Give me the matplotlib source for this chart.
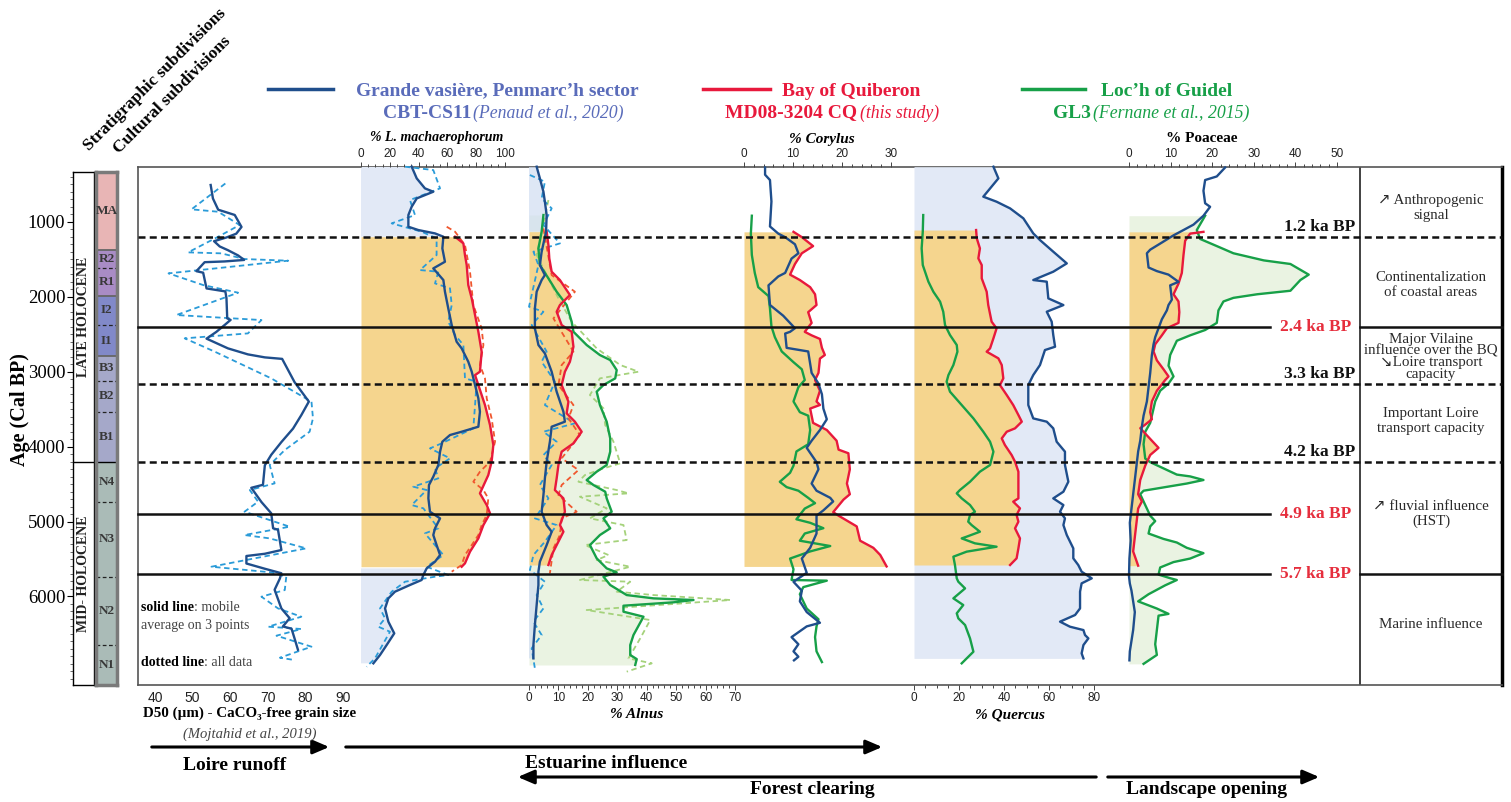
import matplotlib

matplotlib.use("Agg")
import matplotlib.pyplot as plt
import numpy as np
from matplotlib.lines import Line2D
from matplotlib.patches import FancyArrowPatch
from matplotlib.ticker import MultipleLocator

plt.rcParams["font.family"] = ["Liberation Serif", "DejaVu Sans"]
SANS = ["Liberation Sans Narrow", "Liberation Sans", "DejaVu Sans"]

W, H = 1511, 802
Y_TOP, Y_BOT = 167, 685
AGE_TOP, AGE_BOT = 270, 7181
STRIP_TOP = 337

# ---------------------------------------------------------------- data
AGE_TICKS = [1000, 2000, 3000, 4000, 5000, 6000]

SUBDIV_LABELS = ["MA", "R2", "R1", "I2", "I1", "B3", "B2", "B1", "N4", "N3", "N2", "N1"]
SUBDIV_EDGES = [337, 1378, 1618, 1991, 2378, 2792, 3125, 3539, 4200, 4739, 5739, 6647, 7181]

EVENT_AGES = [1200, 2400, 3165, 4200, 4900, 5700]
EVENT_LABELS = ["1.2 ka BP", "2.4 ka BP", "3.3 ka BP", "4.2 ka BP", "4.9 ka BP", "5.7 ka BP"]

# D50 grain size (Mojtahid et al., 2019)
grain_age = [510, 690, 840, 870, 910, 1070, 1160, 1210, 1260, 1330, 1380, 1450, 1510, 1530, 1540,
             1660, 1680, 1890, 1930, 2020, 2290, 2310, 2370, 2470, 2560, 2690, 2770, 2810, 2830, 3140,
             3400, 3580, 3760, 3940, 4110, 4250, 4510, 4550, 4740, 4890, 5090, 5110, 5380, 5430, 5460,
             5560, 5630, 5690, 5760, 5910, 5980, 6160, 6290, 6400, 6430, 6560, 6710]
grain_d50 = [54.8, 55.4, 56.8, 58.7, 61.2, 63.0, 61.6, 59.0, 55.7, 57.2, 59.4, 62.1, 63.7, 58.5, 53.2,
             51.0, 52.8, 53.7, 58.7, 59.0, 59.2, 60.1, 58.7, 56.3, 53.7, 59.4, 64.7, 69.2, 73.8, 77.1,
             80.9, 78.9, 76.7, 73.6, 70.9, 69.2, 68.7, 65.6, 68.3, 70.9, 71.4, 72.7, 73.6, 69.2, 64.3,
             64.3, 69.2, 73.6, 73.2, 71.8, 72.3, 73.6, 75.8, 74.0, 76.3, 77.1, 78.0]
grain_all_age = [490, 835, 867, 1044, 1200, 1409, 1422, 1498, 1520, 1689, 1845, 1947, 2245, 2312, 2490,
                 2556, 2734, 3090, 3401, 3624, 3802, 4046, 4246, 4491, 4580, 4735, 4869, 5069, 5180, 5225,
                 5358, 5603, 5678, 5736, 5914, 6003, 6159, 6270, 6403, 6434, 6523, 6670, 6817, 6848]
grain_all_d50 = [58.7, 49.7, 56.8, 62.5, 56.8, 48.8, 57.6, 63.8, 75.4, 43.6, 52.8, 62.1, 45.7, 68.3, 64.7,
                 47.9, 55.9, 70.9, 81.6, 82.0, 81.1, 74.5, 70.5, 71.8, 65.2, 67.4, 63.8, 75.8, 63.8, 70.5,
                 80.2, 55.0, 70.9, 74.9, 74.5, 68.3, 72.7, 78.9, 70.1, 78.9, 72.3, 81.6, 73.2, 77.1]

# % L. machaerophorum
lmach_cbt_age = [266, 422, 555, 600, 689, 800, 911, 1067, 1111, 1156, 1200, 1356, 1534, 1623, 1778,
                 1934, 2156, 2379, 2601, 2690, 2868, 3001, 3179, 3357, 3535, 3735, 3802, 3846, 3935, 4068,
                 4246, 4402, 4513, 4691, 4869, 4958, 5091, 5180, 5314, 5447, 5536, 5625, 5714, 5780, 5856,
                 5936, 6025, 6159, 6336, 6492, 6648, 6781, 6892]
lmach_cbt = [35.2, 38.7, 44.4, 50.2, 38.7, 35.2, 32.9, 32.9, 39.8, 51.4, 57.2, 56.5, 58.3, 50.2, 57.2,
             58.3, 60.6, 63.0, 66.4, 69.9, 74.5, 76.9, 79.2, 81.5, 82.6, 81.5, 69.9, 61.8, 56.5, 54.9,
             53.7, 50.2, 47.2, 46.8, 47.9, 54.9, 51.4, 50.2, 52.5, 54.9, 51.4, 45.6, 43.3, 42.1, 32.9,
             23.6, 19.0, 16.7, 19.0, 23.1, 17.8, 13.2, 8.6]
lmach_cbt_all_age = [266, 311, 555, 711, 911, 1022, 1133, 1222, 1445, 1645, 1667, 1823, 1889, 2112, 2334,
                     2512, 2645, 3090, 3134, 3446, 3757, 3957, 4024, 4157, 4291, 4424, 4535, 4580, 4780, 4824,
                     5091, 5158, 5447, 5603, 5714, 5736, 5803, 5936, 6159, 6292, 6403, 6470, 6826, 6937]
lmach_cbt_all = [30.6, 50.2, 54.9, 34.0, 37.5, 21.3, 42.1, 52.5, 52.5, 41.0, 53.7, 51.4, 61.8, 63.0, 60.6,
                 65.3, 71.1, 72.2, 80.3, 79.2, 78.0, 56.0, 47.9, 61.8, 51.4, 53.7, 36.3, 45.6, 35.2, 43.3,
                 53.7, 44.4, 57.2, 45.6, 60.6, 51.4, 30.6, 21.3, 13.2, 16.7, 12.0, 20.1, 9.7, 3.9]
lmach_cq_age = [1200, 1289, 1445, 1578, 1845, 2023, 2245, 2468, 2734, 3001, 3046, 3179, 3446, 3713, 3979,
                4202, 4380, 4624, 4780, 4891, 5047, 5225, 5402, 5558, 5603]
lmach_cq = [65.3, 71.1, 72.2, 73.4, 74.5, 76.9, 79.2, 81.5, 83.8, 82.6, 79.2, 81.5, 86.1, 89.6, 91.9,
            90.7, 88.4, 82.6, 87.3, 89.6, 85.0, 81.5, 75.7, 72.2, 69.9]
lmach_cq_all_age = [1067, 1133, 1311, 1667, 2112, 2423, 2645, 2912, 3090, 3357, 3624, 3935, 4202, 4335,
                    4469, 4580, 4691, 4913, 5047, 5180, 5314, 5447, 5580, 5669]
lmach_cq_all = [59.5, 65.3, 72.2, 75.7, 78.0, 83.8, 85.0, 82.6, 86.1, 87.3, 90.7, 93.1, 89.6, 82.6,
                78.0, 85.0, 88.4, 87.3, 83.8, 81.5, 76.9, 72.2, 69.9, 63.0]

# % Alnus
alnus_cbt_age = [266, 422, 600, 733, 911, 1133, 1400, 1578, 1712, 1778, 1934, 2156, 2423, 2645, 2757,
                 3001, 3268, 3535, 3668, 3735, 3935, 4202, 4424, 4647, 4869, 5047, 5136, 5314, 5536, 5669,
                 5847, 6114, 6381, 6648, 6826]
alnus_cbt = [2.6, 3.7, 4.9, 5.4, 6.0, 5.8, 4.3, 3.7, 5.4, 4.3, 2.6, 2.0, 2.0, 3.2, 5.4,
             7.7, 9.4, 11.7, 12.2, 7.7, 7.1, 6.0, 5.4, 4.9, 4.3, 6.0, 7.7, 6.0, 3.7, 3.2,
             3.2, 2.6, 2.0, 1.5, 1.5]
alnus_cbt_all_age = [377, 466, 689, 822, 1044, 1289, 1400, 1578, 2134, 2201, 2379, 2734, 2868, 3134, 3446,
                     3690, 3802, 3935, 4113, 4246, 4513, 4691, 4958, 5047, 5269, 5447, 5647, 5803, 5981, 6159,
                     6336, 6514, 6692, 6959]
alnus_cbt_all = [0.3, 5.4, 4.3, 7.7, 4.9, 10.5, 1.5, 3.2, 0.0, 4.9, 0.9, 6.0, 4.3, 8.8, 5.4,
                 15.6, 4.9, 9.4, 4.9, 7.7, 3.7, 6.6, 2.0, 9.4, 5.4, 1.5, 0.3, 5.4, 2.6, 4.9,
                 1.5, 4.3, 0.9, 2.0]
alnus_cq_age = [1133, 1311, 1489, 1667, 1778, 1978, 2112, 2201, 2379, 2468, 2668, 2868, 3001, 3179, 3401,
                3557, 3668, 3802, 3957, 4068, 4246, 4424, 4580, 4691, 4869, 5047, 5136, 5314, 5447, 5580]
alnus_cq = [6.0, 6.6, 6.9, 7.7, 10.5, 13.9, 10.5, 9.4, 11.1, 14.5, 15.1, 13.9, 12.2, 11.1, 13.4,
            12.8, 15.6, 17.9, 15.1, 11.1, 10.0, 9.4, 8.8, 11.7, 12.2, 10.5, 11.7, 9.4, 7.7, 6.6]
alnus_cq_all_age = [1089, 1712, 1934, 2290, 2734, 2912, 3179, 3446, 3624, 3846, 4157, 4313, 4513, 4647,
                    4869, 4958, 5180, 5358, 5692]
alnus_cq_all = [4.9, 7.7, 15.6, 8.3, 15.1, 11.1, 10.0, 15.1, 13.4, 17.3, 11.1, 16.8, 11.1, 10.0,
                16.2, 11.1, 10.5, 8.3, 7.1]
alnus_gl3_age = [911, 1133, 1356, 1578, 1756, 1934, 2112, 2334, 2468, 2645, 2779, 2846, 2979, 3090, 3179,
                 3268, 3446, 3668, 3891, 4068, 4246, 4335, 4447, 4513, 4602, 4691, 4869, 4958, 5091, 5180,
                 5314, 5491, 5625, 5678, 5736, 5847, 5981, 6025, 6047, 6078, 6123, 6203, 6270, 6514, 6648,
                 6781, 6835, 6914]
alnus_gl3 = [4.9, 4.3, 3.2, 3.7, 6.6, 9.4, 12.8, 14.5, 15.1, 19.6, 24.1, 27.6, 29.8, 29.3, 25.3,
             23.0, 24.1, 26.4, 27.6, 27.6, 26.4, 23.0, 19.6, 21.9, 25.9, 26.4, 28.1, 25.3, 27.6, 24.1,
             20.7, 23.0, 26.4, 29.8, 25.3, 27.6, 33.2, 42.3, 55.9, 49.1, 32.1, 32.1, 38.9, 35.5, 34.4,
             34.4, 36.6, 36.1]
alnus_gl3_all_age = [711, 1445, 2023, 2334, 2690, 2912, 3001, 3090, 3312, 3490, 3713, 3935, 4224, 4291,
                     4380, 4469, 4580, 4624, 4669, 4824, 4958, 5047, 5247, 5314, 5447, 5514, 5603, 5780,
                     5803, 5936, 5981, 6047, 6181, 6314, 6559, 6826, 6892, 7003]
alnus_gl3_all = [6.6, 2.6, 10.0, 14.5, 23.0, 31.0, 37.2, 24.1, 20.7, 25.3, 25.9, 28.7, 31.0, 25.3,
                 19.0, 16.8, 29.8, 33.8, 17.3, 26.4, 20.7, 32.1, 33.2, 19.0, 27.0, 23.0, 34.4, 17.3,
                 34.4, 29.8, 42.3, 68.4, 19.6, 41.2, 37.8, 33.8, 41.7, 33.2]

# % Corylus
corylus_cbt_age = [277, 373, 444, 730, 1063, 1159, 1206, 1301, 1421, 1492, 1683, 1730, 1849, 2111, 2254,
                   2421, 2469, 2492, 2683, 2731, 3017, 3159, 3302, 3493, 3636, 3779, 3922, 4017, 4208, 4303,
                   4493, 4589, 4684, 4732, 4851, 4922, 5160, 5351, 5494, 5684, 5804, 5923, 6065, 6208, 6351,
                   6399, 6542, 6637, 6732, 6804, 6852]
corylus_cbt = [4.3, 4.3, 5.3, 5.6, 5.3, 7.0, 8.4, 10.4, 11.1, 9.7, 8.4, 7.0, 5.0, 5.3, 8.0,
               10.4, 9.4, 8.4, 8.7, 13.1, 13.8, 15.2, 15.9, 16.2, 16.9, 15.5, 13.8, 12.8, 14.8, 15.2,
               13.8, 14.8, 17.6, 18.2, 16.2, 14.8, 14.8, 13.5, 11.8, 12.8, 10.1, 11.8, 11.4, 12.8, 15.5,
               12.8, 9.7, 11.1, 10.1, 11.1, 10.2]
corylus_cq_age = [1135, 1206, 1325, 1421, 1564, 1706, 1778, 1873, 1968, 2111, 2207, 2350, 2469, 2516, 2564,
                  2683, 2778, 2826, 3017, 3112, 3255, 3398, 3445, 3493, 3684, 3779, 3922, 4041, 4089, 4303,
                  4493, 4636, 4708, 4875, 4922, 5065, 5256, 5351, 5446, 5599]
corylus_cq = [10.1, 11.8, 14.1, 11.8, 10.4, 9.4, 11.4, 13.5, 14.5, 14.8, 13.1, 13.8, 12.4, 13.8, 15.5,
              15.9, 16.5, 15.5, 15.2, 14.5, 15.5, 14.8, 15.5, 13.5, 14.1, 16.9, 18.9, 19.3, 21.3, 21.6,
              21.0, 21.6, 20.3, 18.2, 19.3, 23.0, 23.7, 26.4, 27.8, 29.1]
corylus_gl3_age = [920, 1159, 1444, 1683, 1873, 1992, 2159, 2397, 2540, 2731, 2874, 2969, 3112, 3207, 3398,
                   3541, 3588, 3779, 3969, 4065, 4255, 4350, 4470, 4541, 4589, 4684, 4755, 4827, 4970, 5017,
                   5089, 5160, 5256, 5327, 5399, 5494, 5637, 5780, 5789, 5875, 5970, 6161, 6304, 6399, 6542,
                   6732, 6875]
corylus_gl3 = [1.6, 1.4, 1.6, 2.2, 2.9, 5.0, 5.3, 5.6, 6.3, 7.7, 10.1, 11.8, 12.4, 11.1, 10.1,
               11.4, 13.1, 13.5, 13.1, 10.7, 10.1, 9.4, 7.3, 8.7, 11.1, 13.1, 14.5, 12.4, 10.7, 13.5,
               16.2, 12.4, 11.4, 17.6, 13.5, 9.4, 10.1, 9.7, 16.9, 12.1, 11.4, 12.8, 15.2, 14.8, 14.5,
               14.8, 15.9]

# % Quercus
quercus_cbt_age = [266, 422, 666, 733, 822, 955, 1156, 1245, 1400, 1556, 1667, 1778, 1800, 2023, 2112,
                   2201, 2334, 2512, 2668, 2712, 2912, 3046, 3179, 3446, 3624, 3668, 3757, 3935, 4068, 4246,
                   4469, 4602, 4691, 4780, 4869, 4958, 5047, 5180, 5358, 5491, 5580, 5669, 5758, 5825, 5936,
                   6159, 6247, 6336, 6403, 6448, 6514, 6559, 6648, 6759, 6826]
quercus_cbt = [35.3, 37.5, 30.8, 36.7, 42.7, 48.6, 53.0, 56.0, 61.9, 67.9, 61.9, 53.0, 59.0, 59.7, 66.4,
               59.0, 61.2, 61.9, 62.7, 58.2, 56.0, 53.0, 50.8, 50.8, 53.0, 59.0, 61.9, 63.4, 67.1, 67.1,
               68.6, 66.4, 61.9, 66.4, 64.9, 67.1, 66.4, 67.9, 70.8, 70.8, 73.0, 74.5, 79.0, 74.5, 73.8,
               73.8, 71.6, 64.9, 69.3, 75.3, 76.0, 77.5, 75.3, 74.5, 75.3]
quercus_cq_age = [1111, 1222, 1356, 1489, 1578, 1756, 1934, 2112, 2334, 2423, 2556, 2690, 2734, 2823, 2912,
                  3090, 3179, 3312, 3446, 3579, 3668, 3757, 3802, 3891, 3979, 4113, 4202, 4335, 4513, 4691,
                  4735, 4824, 4913, 5002, 5091, 5225, 5358, 5491, 5580]
quercus_cq = [27.6, 27.9, 29.3, 28.6, 30.1, 30.1, 32.3, 33.0, 34.5, 36.7, 35.3, 33.8, 32.3, 37.5, 39.0,
              39.7, 38.2, 41.2, 44.1, 46.4, 47.9, 44.9, 41.2, 39.0, 40.4, 43.4, 44.9, 46.4, 46.4, 46.4,
              44.1, 47.1, 45.6, 46.4, 44.9, 47.1, 46.4, 45.6, 42.7]
quercus_gl3_age = [911, 1133, 1356, 1578, 1800, 1934, 2067, 2201, 2379, 2512, 2645, 2734, 2912, 3046, 3134,
                   3268, 3446, 3624, 3802, 3935, 4068, 4246, 4335, 4469, 4580, 4624, 4691, 4780, 4869, 4913,
                   5002, 5047, 5136, 5202, 5225, 5291, 5336, 5402, 5469, 5580, 5758, 5803, 5892, 6025, 6114,
                   6225, 6292, 6381, 6559, 6737, 6892]
quercus_gl3 = [4.1, 3.9, 3.4, 3.9, 6.4, 8.6, 11.6, 13.0, 13.8, 16.0, 19.0, 19.3, 17.5, 15.3, 14.5,
               16.0, 21.2, 26.4, 30.8, 33.8, 35.3, 33.8, 29.3, 24.9, 20.4, 19.0, 21.2, 24.9, 27.1, 24.9,
               24.1, 25.6, 29.3, 23.4, 21.2, 27.1, 36.7, 23.4, 17.5, 18.2, 19.0, 19.7, 22.7, 17.5, 21.9,
               19.0, 19.7, 22.7, 24.9, 26.4, 21.2]

# % Poaceae
poaceae_cbt_age = [277, 396, 444, 587, 754, 801, 920, 1039, 1111, 1182, 1278, 1373, 1421, 1611, 1659,
                   1706, 1802, 1849, 2040, 2111, 2183, 2302, 2421, 2540, 2635, 2778, 3017, 3207, 3398, 3588,
                   3731, 3922, 4065, 4255, 4446, 4636, 4827, 5017, 5256, 5494, 5732, 5827, 5923, 6065, 6208,
                   6447, 6590, 6732, 6852]
poaceae_cbt = [23.1, 21.1, 18.3, 17.9, 18.3, 19.5, 17.9, 15.5, 13.1, 10.7, 7.9, 5.1, 4.3, 4.7, 6.7,
               9.5, 11.9, 9.9, 10.3, 9.5, 9.1, 7.9, 7.1, 6.3, 5.9, 5.5, 5.1, 4.7, 4.3, 3.5,
               3.1, 2.7, 2.2, 1.8, 1.4, 1.0, 0.6, 0.2, 0.4, 0.1, 0.0, 0.2, 0.6, 1.0, 1.4,
               1.0, 0.6, 0.2, 0.1]
poaceae_cq_age = [1135, 1159, 1254, 1444, 1683, 1826, 1968, 2064, 2207, 2350, 2421, 2516, 2635, 2731, 2850,
                  2969, 3064, 3112, 3255, 3398, 3541, 3636, 3707, 3755, 3826, 3922, 4017, 4112, 4255, 4446,
                  4636, 4732, 4827, 5017, 5208, 5399, 5589]
poaceae_cq = [17.9, 14.7, 13.5, 13.1, 12.7, 11.9, 10.7, 11.9, 12.1, 11.9, 9.1, 7.9, 6.3, 5.9, 6.7,
              8.3, 9.5, 8.7, 6.7, 5.5, 5.1, 5.5, 3.9, 2.7, 3.9, 5.5, 7.1, 5.1, 3.9, 2.7,
              2.2, 3.1, 2.2, 1.8, 1.4, 1.0, 2.2]
poaceae_gl3_age = [920, 1111, 1230, 1325, 1421, 1516, 1564, 1706, 1778, 1921, 1968, 2016, 2064, 2183, 2350,
                   2445, 2516, 2588, 2778, 2921, 3064, 3159, 3255, 3398, 3588, 3684, 3803, 3969, 4160, 4208,
                   4374, 4398, 4446, 4493, 4589, 4636, 4732, 4922, 4994, 5065, 5160, 5232, 5280, 5351, 5422,
                   5494, 5541, 5613, 5708, 5756, 5780, 5851, 5970, 6065, 6161, 6232, 6256, 6447, 6637, 6780,
                   6899]
poaceae_gl3 = [18.3, 16.3, 17.1, 21.1, 25.1, 32.4, 38.8, 43.2, 41.2, 38.8, 30.8, 25.1, 22.7, 21.5, 21.1,
               18.3, 14.7, 11.5, 9.9, 9.5, 10.7, 9.5, 7.5, 6.3, 5.5, 5.1, 3.9, 3.5, 3.9, 5.1,
               11.5, 14.7, 17.9, 13.9, 3.5, 2.7, 3.5, 5.1, 6.3, 5.1, 4.7, 8.3, 11.5, 13.9, 17.9,
               14.7, 10.7, 7.5, 7.1, 9.9, 11.5, 8.7, 4.7, 2.2, 6.7, 9.5, 7.1, 6.7, 6.3, 6.7,
               3.5]

# ---------------------------------------------------------------- style
NAVY = "#1F4E8C"
NAVY_DASH = "#2A9BD8"
RED = "#E8193C"
RED_DASH = "#F0572E"
GREEN = "#17A048"
GREEN_DASH = "#A5D27B"
FILL_BLUE = "#E2E9F6"
FILL_ORANGE = "#F5D58E"
FILL_GREEN = "#EAF3E2"
LEG_BLUE = "#5A6CBA"
KA_RED = "#E62E3D"
SUB_COLORS = {"M": "#E8B5B5", "R": "#A98CC5", "I": "#8189C9", "B": "#A5A8C9", "N": "#AABBB7"}


def add_ax(fig, x0, y0, x1, y1):
    return fig.add_axes([x0 / W, 1 - y1 / H, (x1 - x0) / W, (y1 - y0) / H])


def put(fig, x, y, s, **kw):
    kw.setdefault("ha", "center")
    kw.setdefault("va", "center")
    return fig.text(x / W, 1 - y / H, s, **kw)


def panel(fig, x0, x1, xlim, major, minor, top, labelsize=8.5):
    ax = add_ax(fig, x0, Y_TOP, x1, Y_BOT)
    ax.patch.set_visible(False)
    for sp in ax.spines.values():
        sp.set_visible(False)
    ax.set_xlim(*xlim)
    ax.set_ylim(AGE_BOT, AGE_TOP)
    ax.set_yticks([])
    ax.set_xticks(major)
    if minor:
        ax.xaxis.set_minor_locator(MultipleLocator(minor))
    if top:
        ax.xaxis.tick_top()
    ax.tick_params(axis="x", which="both", direction="out", width=0.7, colors="#444",
                   labelcolor="#222", labelsize=labelsize, pad=1.5, labelfontfamily=SANS)
    ax.tick_params(axis="x", which="major", length=3.5)
    ax.tick_params(axis="x", which="minor", length=2.2)
    return ax


def curve(ax, age, val, color, dashed=False):
    if dashed:
        ax.plot(val, age, color=color, lw=1.3, ls=(0, (3, 2)), zorder=3, clip_on=False)
    else:
        ax.plot(val, age, color=color, lw=1.7, zorder=4, clip_on=False)


def shade(ax, age, val, color, where=None, z=1.0):
    ax.fill_betweenx(np.asarray(age), 0, np.asarray(val), where=where, color=color, lw=0, zorder=z)


def main() -> None:
    fig = plt.figure(figsize=(W / 100, H / 100), dpi=100)

    # frame + right interpretation box
    frame = add_ax(fig, 138, Y_TOP, 1502, Y_BOT)
    frame.set_xlim(138, 1502)
    frame.set_ylim(AGE_BOT, AGE_TOP)
    frame.set_xticks([])
    frame.set_yticks([])
    for side in ("left", "top", "bottom"):
        frame.spines[side].set_color("#555")
        frame.spines[side].set_linewidth(1.2)
    frame.spines["right"].set_linewidth(2.5)
    frame.axvline(1360, color="#333", lw=1.3)

    # ---- grain size
    grain = panel(fig, 138, 360, (35.48, 94.5), [40, 50, 60, 70, 80, 90], None, False, labelsize=10)
    grain.tick_params(axis="x", which="major", length=0, pad=4)
    curve(grain, grain_all_age, grain_all_d50, NAVY_DASH, dashed=True)
    curve(grain, grain_age, grain_d50, NAVY)

    # ---- L. machaerophorum
    lm = panel(fig, 361, 505, (0, 100), [0, 20, 40, 60, 80, 100], 5, True)
    a = np.asarray(lmach_cbt_age)
    shade(lm, lmach_cbt_age, lmach_cbt, FILL_BLUE, where=(a <= 1230) | (a >= 5600))
    shade(lm, lmach_cq_age, lmach_cq, FILL_ORANGE, z=1.5)
    curve(lm, lmach_cbt_all_age, lmach_cbt_all, NAVY_DASH, dashed=True)
    curve(lm, lmach_cq_all_age, lmach_cq_all, RED_DASH, dashed=True)
    curve(lm, lmach_cq_age, lmach_cq, RED)
    curve(lm, lmach_cbt_age, lmach_cbt, NAVY)

    # ---- Alnus
    al = panel(fig, 529, 735, (0, 70), [0, 10, 20, 30, 40, 50, 60, 70], 2, False)
    shade(al, alnus_gl3_age, alnus_gl3, FILL_GREEN)
    a = np.asarray(alnus_cbt_age)
    al.fill_betweenx(a, 0, alnus_cbt, where=(a <= 1180) | (a >= 5650), color="#D3DFF2",
                     alpha=0.75, lw=0, zorder=1.2)
    shade(al, alnus_cq_age, alnus_cq, FILL_ORANGE, z=1.5)
    curve(al, alnus_gl3_all_age, alnus_gl3_all, GREEN_DASH, dashed=True)
    curve(al, alnus_cbt_all_age, alnus_cbt_all, NAVY_DASH, dashed=True)
    curve(al, alnus_cq_all_age, alnus_cq_all, RED_DASH, dashed=True)
    curve(al, alnus_gl3_age, alnus_gl3, GREEN)
    curve(al, alnus_cq_age, alnus_cq, RED)
    curve(al, alnus_cbt_age, alnus_cbt, NAVY)

    # ---- Corylus
    co = panel(fig, 744, 891, (0, 30), [0, 10, 20, 30], 2, True)
    shade(co, corylus_cq_age, corylus_cq, FILL_ORANGE, z=1.5)
    curve(co, corylus_gl3_age, corylus_gl3, GREEN)
    curve(co, corylus_cq_age, corylus_cq, RED)
    curve(co, corylus_cbt_age, corylus_cbt, NAVY)

    # ---- Quercus
    qu = panel(fig, 914, 1094, (0, 80), [0, 20, 40, 60, 80], 5, False)
    shade(qu, quercus_cbt_age, quercus_cbt, FILL_BLUE)
    shade(qu, quercus_cq_age, quercus_cq, FILL_ORANGE, z=1.5)
    curve(qu, quercus_gl3_age, quercus_gl3, GREEN)
    curve(qu, quercus_cq_age, quercus_cq, RED)
    curve(qu, quercus_cbt_age, quercus_cbt, NAVY)

    # ---- Poaceae
    po = panel(fig, 1129, 1337, (0, 50), [0, 10, 20, 30, 40, 50], 2, True)
    shade(po, poaceae_gl3_age, poaceae_gl3, FILL_GREEN)
    shade(po, poaceae_cq_age, poaceae_cq, FILL_ORANGE, z=1.5)
    curve(po, poaceae_gl3_age, poaceae_gl3, GREEN)
    curve(po, poaceae_cq_age, poaceae_cq, RED)
    curve(po, poaceae_cbt_age, poaceae_cbt, NAVY)

    # ---- event lines and labels (overlay)
    over = add_ax(fig, 138, Y_TOP, 1502, Y_BOT)
    over.set_xlim(138, 1502)
    over.set_ylim(AGE_BOT, AGE_TOP)
    over.axis("off")
    for age, label in zip(EVENT_AGES, EVENT_LABELS):
        solid = label in ("2.4 ka BP", "4.9 ka BP", "5.7 ka BP")
        if solid:
            segs = [(138, 1270)] if label == "4.9 ka BP" else [(138, 1270), (1360, 1502)]
            for x0, x1 in segs:
                over.plot([x0, x1], [age, age], color="#111", lw=1.8, clip_on=False)
            over.annotate(label, xy=(1316, age), ha="center", va="center", fontsize=12.5,
                          fontweight="bold", color=KA_RED, annotation_clip=False)
        else:
            over.plot([138, 1502], [age, age], color="#111", lw=1.8, ls=(0, (2.8, 1.7)), clip_on=False)
            over.annotate(label, xy=(1320, age), xytext=(0, 7), textcoords="offset points",
                          ha="center", va="center", fontsize=12.5, fontweight="bold", color="#111",
                          annotation_clip=False)

    box_kw = dict(fontsize=10.8, color="#2a2a2a", linespacing=1.15)
    put(fig, 1431, 208, "↗ Anthropogenic\nsignal", **box_kw)
    put(fig, 1431, 285, "Continentalization\nof coastal areas", **box_kw)
    put(fig, 1431, 357, "Major Vilaine\ninfluence over the BQ\n↘Loire transport\ncapacity",
        fontsize=10.8, color="#2a2a2a", linespacing=0.86)
    put(fig, 1431, 421, "Important Loire\ntransport capacity", **box_kw)
    put(fig, 1431, 514, "↗ fluvial influence\n(HST)", **box_kw)
    put(fig, 1431, 625, "Marine influence", **box_kw)

    # ---- axis titles
    put(fig, 437, 138, "% L. machaerophorum", fontsize=10, fontweight="bold", fontstyle="italic")
    put(fig, 822, 139, "% Corylus", fontsize=11, fontweight="bold", fontstyle="italic")
    put(fig, 1202, 138, "% Poaceae", fontsize=11, fontweight="bold")
    put(fig, 637, 715, "% Alnus", fontsize=11, fontweight="bold", fontstyle="italic")
    put(fig, 1010, 715, "% Quercus", fontsize=11, fontweight="bold", fontstyle="italic")
    put(fig, 250, 713, "D50 (µm) - CaCO₃-free grain size", fontsize=10.8, fontweight="bold")
    put(fig, 250, 734, "(Mojtahid et al., 2019)", fontsize=10.5, fontstyle="italic", color="#444")

    # ---- grain-size notes
    t1 = put(fig, 141, 614, "solid line", ha="left", va="bottom", fontsize=10, fontweight="bold")
    grain.annotate(": mobile", xy=(1, 0), xycoords=t1, ha="left", va="bottom", fontsize=10,
                   color="#444", annotation_clip=False)
    put(fig, 141, 632, "average on 3 points", ha="left", va="bottom", fontsize=10, color="#444")
    t2 = put(fig, 141, 669, "dotted line", ha="left", va="bottom", fontsize=10, fontweight="bold")
    grain.annotate(": all data", xy=(1, 0), xycoords=t2, ha="left", va="bottom", fontsize=10,
                   color="#444", annotation_clip=False)

    # ---- left strip: age axis and subdivisions
    white = add_ax(fig, 73, 172, 94, Y_BOT)
    white.set_xlim(0, 1)
    white.set_ylim(AGE_BOT, STRIP_TOP)
    white.set_xticks([])
    white.set_yticks(AGE_TICKS)
    white.yaxis.set_minor_locator(MultipleLocator(100))
    white.tick_params(axis="y", which="major", length=4, width=0.8, labelsize=13.5, pad=1.5)
    white.tick_params(axis="y", which="minor", length=2, width=0.6, color="#555")
    for sp in white.spines.values():
        sp.set_linewidth(1.0)
    white.axhline(SUBDIV_EDGES[8], color="k", lw=1.0)
    white.text(0.5, (STRIP_TOP + SUBDIV_EDGES[8]) / 2, "LATE HOLOCENE", rotation=90, ha="center",
               va="center", fontsize=10, fontweight="bold", color="#222")
    white.text(0.5, (SUBDIV_EDGES[8] + AGE_BOT) / 2, "MID- HOLOCENE", rotation=90, ha="center",
               va="center", fontsize=10, fontweight="bold", color="#222")

    strat = add_ax(fig, 96, 172, 117, Y_BOT)
    strat.set_xlim(0, 1)
    strat.set_ylim(AGE_BOT, STRIP_TOP)
    strat.set_xticks([])
    strat.set_yticks([])
    for sp in strat.spines.values():
        sp.set_color("#7a7a7a")
        sp.set_linewidth(2.5)
    for lab, a0, a1 in zip(SUBDIV_LABELS, SUBDIV_EDGES[:-1], SUBDIV_EDGES[1:]):
        strat.axhspan(a0, a1, color=SUB_COLORS[lab[0]], lw=0)
        strat.text(0.5, (a0 + a1) / 2, lab, ha="center", va="center", fontsize=9.5,
                   fontweight="bold", color="#383838")
    for i, edge in enumerate(SUBDIV_EDGES[1:-1]):
        if SUBDIV_LABELS[i][0] == SUBDIV_LABELS[i + 1][0]:
            strat.axhline(edge, color="#222", lw=0.9, ls=(0, (3, 2)))
        elif edge == SUBDIV_EDGES[8]:
            strat.axhline(edge, color="k", lw=1.0)
        else:
            strat.axhline(edge, color="#666", lw=1.3)

    put(fig, 20, 410, "Age (Cal BP)", rotation=90, fontsize=14.5, fontweight="bold")
    put(fig, 92, 154, "Stratigraphic subdivisions", rotation=45, rotation_mode="anchor",
        ha="left", va="bottom", fontsize=12.5, fontweight="bold")
    put(fig, 122, 157, "Cultural subdivisions", rotation=45, rotation_mode="anchor",
        ha="left", va="bottom", fontsize=12.5, fontweight="bold")

    # ---- legend
    for x0, x1, col in ((268, 333, NAVY), (703, 770, RED), (1022, 1085, GREEN)):
        fig.add_artist(Line2D([x0 / W, x1 / W], [1 - 89 / H, 1 - 89 / H], transform=fig.transFigure,
                              color=col, lw=2.5))
    put(fig, 497, 91, "Grande vasière, Penmarc’h sector", fontsize=14, fontweight="bold", color=LEG_BLUE)
    put(fig, 471, 113, "CBT-CS11", ha="right", fontsize=14, fontweight="bold", color=LEG_BLUE)
    put(fig, 473, 113, "(Penaud et al., 2020)", ha="left", fontsize=12.8, fontstyle="italic", color=LEG_BLUE)
    put(fig, 851, 91, "Bay of Quiberon", fontsize=14, fontweight="bold", color=RED)
    put(fig, 857, 113, "MD08-3204 CQ", ha="right", fontsize=14, fontweight="bold", color=RED)
    put(fig, 860, 113, "(this study)", ha="left", fontsize=12.8, fontstyle="italic", color=RED)
    put(fig, 1167, 91, "Loc’h of Guidel", fontsize=14, fontweight="bold", color=GREEN)
    put(fig, 1091, 113, "GL3", ha="right", fontsize=14, fontweight="bold", color=GREEN)
    put(fig, 1093, 113, "(Fernane et al., 2015)", ha="left", fontsize=12.8, fontstyle="italic", color=GREEN)

    # ---- bottom arrows
    arrow_kw = dict(transform=fig.transFigure, arrowstyle="-|>,head_length=0.7,head_width=0.3",
                    mutation_scale=14, lw=2.2, color="k")
    for (xa, xb, y) in ((149, 332, 747), (343, 885, 747), (1099, 515, 777), (1105, 1322, 777)):
        fig.add_artist(FancyArrowPatch((xa / W, 1 - y / H), (xb / W, 1 - y / H), **arrow_kw))
    put(fig, 235, 766, "Loire runoff", fontsize=14, fontweight="bold")
    put(fig, 525, 763, "Estuarine influence", ha="left", fontsize=14, fontweight="bold")
    put(fig, 812, 790, "Forest clearing", fontsize=14, fontweight="bold")
    put(fig, 1207, 790, "Landscape opening", fontsize=14, fontweight="bold")

    fig.savefig("out.png", dpi=100)
    plt.close(fig)


if __name__ == "__main__":
    main()
